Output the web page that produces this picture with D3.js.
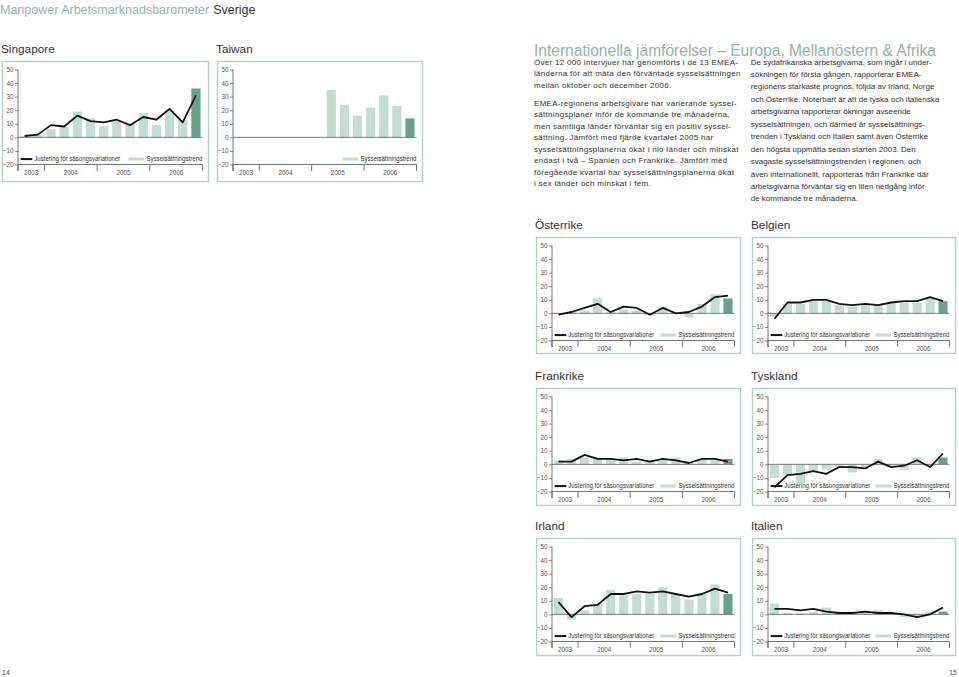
<!DOCTYPE html>
<html><head><meta charset="utf-8">
<script src="https://cdn.jsdelivr.net/npm/d3@7"></script>
<style>body{margin:0;background:#fff}svg{display:block}</style>
</head><body><svg id="c" width="959" height="677"></svg>
<script>
// ---------- DATA ----------
const quarters = ["2003 K3","2003 K4","2004 K1","2004 K2","2004 K3","2004 K4","2005 K1","2005 K2","2005 K3","2005 K4","2006 K1","2006 K2","2006 K3","2006 K4"];
const years = ["2003","2004","2005","2006"];
const yTicks = [50,40,30,20,10,0,-10,-20];
const legendAdj = "Justering för säsongsvariationer";
const legendTrend = "Sysselsättningstrend";

const singaporeTrend = [1,2,6,8,19,14,8,12,10,18,9,20,13,36];
const singaporeAdj   = [1,2,9,8,16,12,11,13,9,15,13,21,11,31];
const taiwanTrend    = [null,null,null,null,null,null,null,35,24,16,22,31,23,14];
const osterrikeTrend = [0,1,2,11,1,3,2,-1,5,0,-3,7,14,11];
const osterrikeAdj   = [-1,1,4,7,1,5,4,-1,4,0,1,5,12,13];
const belgienTrend   = [-2,7,7,9,9,6,5,6,7,8,8,8,11,9];
const belgienAdj     = [-4,8,8,10,10,7,6,7,6,8,9,9,12,9];
const frankrikeTrend = [3,4,5,4,4,5,2,3,3,5,1,4,3,4];
const frankrikeAdj   = [2,2,7,4,4,3,4,2,4,3,1,4,4,2];
const tysklandTrend  = [-10,-8,-14,-5,-4,-2,-6,-2,4,-1,-4,5,-1,5];
const tysklandAdj    = [-17,-8,-7,-5,-7,-2,-2,-3,2,-2,-1,3,-2,8];
const irlandTrend    = [12,-4,3,8,18,14,15,15,20,15,11,15,22,15];
const irlandAdj      = [9,-2,6,7,15,15,17,16,17,15,13,15,19,16];
const italienTrend   = [8,1,1,2,5,1,1,2,3,1,-2,-2,2,2];
const italienAdj     = [4,4,3,4,2,1,1,2,1,1,0,-2,0,5];

const headerTitle = "Manpower Arbetsmarknadsbarometer";
const headerCountry = "Sverige";
const heading = "Internationella jämförelser – Europa, Mellanöstern & Afrika";
const leftColumn = [
 ["Över 12 000 intervjuer har genomförts i de 13 EMEA-",
  "länderna för att mäta den förväntade sysselsättningen",
  "mellan oktober och december 2006."],
 ["EMEA-regionens arbetsgivare har varierande syssel-",
  "sättningsplaner inför de kommande tre månaderna,",
  "men samtliga länder förväntar sig en positiv syssel-",
  "sättning. Jämfört med fjärde kvartalet 2005 har",
  "sysselsättningsplanerna ökat i nio länder och minskat",
  "endast i två – Spanien och Frankrike. Jämfört med",
  "föregående kvartal har sysselsättningsplanerna ökat",
  "i sex länder och minskat i fem."]
];
const rightColumn = [
  "De sydafrikanska arbetsgivarna, som ingår i under-",
  "sökningen för första gången, rapporterar EMEA-",
  "regionens starkaste prognos, följda av Irland, Norge",
  "och Österrike. Noterbart är att de tyska och italienska",
  "arbetsgivarna rapporterar ökningar avseende",
  "sysselsättningen, och därmed är sysselsättnings-",
  "trenden i Tyskland och Italien samt även Österrike",
  "den högsta uppmätta sedan starten 2003. Den",
  "svagaste sysselsättningstrenden i regionen, och",
  "även internationellt, rapporteras från Frankrike där",
  "arbetsgivarna förväntar sig en liten nedgång inför",
  "de kommande tre månaderna."
];

// ---------- LAYOUT / STYLE ----------
const FONT = "'Liberation Sans', Arial, Helvetica, sans-serif";
const LIGHT = "#c3ddd1", DARK = "#68a48c", BORDER = "#b3d1c6", GREEN_TXT = "#93b4a9", TXT = "#333";

const charts = [
  {name:"Singapore", trend:singaporeTrend, adj:singaporeAdj, box:[2,61,207,121]},
  {name:"Taiwan",    trend:taiwanTrend,    adj:null,         box:[217,61,206,121]},
  {name:"Österrike", trend:osterrikeTrend, adj:osterrikeAdj, box:[536,237,205,117]},
  {name:"Belgien",   trend:belgienTrend,   adj:belgienAdj,   box:[752,237,204,117]},
  {name:"Frankrike", trend:frankrikeTrend, adj:frankrikeAdj, box:[536,388,205,118]},
  {name:"Tyskland",  trend:tysklandTrend,  adj:tysklandAdj,  box:[752,388,204,118]},
  {name:"Irland",    trend:irlandTrend,    adj:irlandAdj,    box:[536,538,205,118]},
  {name:"Italien",   trend:italienTrend,   adj:italienAdj,   box:[752,538,204,118]}
];

const svg = d3.select("#c").style("font-family", FONT);

// header
const hdr = svg.append("text").attr("x",0).attr("y",13.5).attr("font-size",12.5).attr("font-weight",300);
hdr.append("tspan").attr("fill",GREEN_TXT).text(headerTitle);
hdr.append("tspan").attr("fill",TXT).attr("dx",4).text(headerCountry);

// heading
svg.append("text").attr("x",534).attr("y",55.7).attr("font-size",16.3).attr("fill",GREEN_TXT)
  .attr("textLength",402).attr("lengthAdjust","spacingAndGlyphs").text(heading);

// paragraphs
let yy = 64.5;
leftColumn.forEach((para, pi) => {
  para.forEach(line => {
    svg.append("text").attr("x",534).attr("y",yy).attr("font-size",8).attr("letter-spacing",0.3)
      .attr("fill",TXT).text(line);
    yy += 11.5;
  });
  yy += 6.9;
});
rightColumn.forEach((line,i) => {
  svg.append("text").attr("x",750.7).attr("y",64.5 + i*12.45).attr("font-size",8).attr("fill",TXT).text(line);
});

// page numbers
svg.append("text").attr("x",2).attr("y",675).attr("font-size",7).attr("fill","#555").text("14");
svg.append("text").attr("x",957).attr("y",675).attr("font-size",7).attr("fill","#555").attr("text-anchor","end").text("15");

function drawChart(c){
  const [bx,by,bw,bh] = c.box;
  const g = svg.append("g");
  g.append("rect").attr("x",bx+0.5).attr("y",by+0.5).attr("width",bw-1).attr("height",bh-1)
    .attr("fill","none").attr("stroke",BORDER).attr("stroke-width",1.4);
  g.append("text").attr("x",bx-1).attr("y",by-7.7).attr("font-size",11.8).attr("fill",TXT).text(c.name);

  const x0 = bx+16, x1 = bx+bw-6.5;
  const yTop = by+8.5, yBot = by+103.5;
  const x = d3.scaleBand().domain(quarters).range([x0,x1]).paddingInner(0.3).paddingOuter(0.15);
  const y = d3.scaleLinear().domain([-20,50]).range([yBot,yTop]);
  const last = quarters[quarters.length-1];

  const bars = quarters.map((q,i)=>({q, v:c.trend[i]})).filter(d=>d.v!=null);
  g.selectAll("rect.bar").data(bars).join("rect").attr("class","bar")
    .attr("x",d=>x(d.q)).attr("width",x.bandwidth())
    .attr("y",d=>y(Math.max(0,d.v))).attr("height",d=>Math.abs(y(d.v)-y(0)))
    .attr("fill",d=>d.q===last?DARK:LIGHT);

  // zero line
  g.append("line").attr("x1",x0).attr("x2",x1).attr("y1",y(0)).attr("y2",y(0))
    .attr("stroke","#6d6d6d").attr("stroke-width",0.9);

  // y axis
  const ya = g.append("g").attr("transform",`translate(${x0},0)`)
    .call(d3.axisLeft(y).tickValues(yTicks).tickSize(3).tickSizeOuter(0).tickPadding(1.5));
  ya.select(".domain").remove();
  ya.selectAll(".tick line").attr("stroke","#555").attr("stroke-width",0.7);
  ya.selectAll(".tick text").attr("font-size",6.3).attr("fill","#555").attr("font-family",FONT);
  g.append("line").attr("x1",x0).attr("x2",x0).attr("y1",yTop).attr("y2",yBot+6.5)
    .attr("stroke","#555").attr("stroke-width",0.8);

  // x axis at bottom
  g.append("line").attr("x1",x0).attr("x2",x1).attr("y1",yBot).attr("y2",yBot)
    .attr("stroke","#555").attr("stroke-width",0.8);
  const step = x.step();
  const yearStart = years.map(yr => x(quarters.find(q=>q.startsWith(yr))) - step*0.15);
  const bounds = yearStart.concat([x1]);
  g.selectAll("line.ytick").data(bounds).join("line").attr("class","ytick")
    .attr("x1",d=>d).attr("x2",d=>d).attr("y1",yBot).attr("y2",yBot+6.5)
    .attr("stroke","#555").attr("stroke-width",0.8);
  g.selectAll("text.year").data(years).join("text").attr("class","year")
    .attr("x",(d,i)=>(bounds[i]+bounds[i+1])/2).attr("y",yBot+10.5)
    .attr("text-anchor","middle").attr("font-size",6.3).attr("fill","#555").text(d=>d);

  // line
  if (c.adj){
    g.append("path").datum(quarters.map((q,i)=>[q,c.adj[i]]))
      .attr("d", d3.line().x(d=>x(d[0])+x.bandwidth()/2).y(d=>y(d[1])))
      .attr("fill","none").attr("stroke","#111").attr("stroke-width",1.8).attr("stroke-linejoin","round");
  }

  // legend
  const ly = y(-16);
  if (c.adj){
    g.append("line").attr("x1",x0+2.7).attr("x2",x0+14.3).attr("y1",ly).attr("y2",ly)
      .attr("stroke","#111").attr("stroke-width",2);
    g.append("text").attr("x",x0+16.3).attr("y",ly+2.3).attr("font-size",6.5).attr("fill","#333")
      .attr("textLength",86).attr("lengthAdjust","spacingAndGlyphs").text(legendAdj);
  }
  const tx = x1-56;
  g.append("line").attr("x1",tx-18).attr("x2",tx-2.5).attr("y1",ly).attr("y2",ly)
    .attr("stroke",LIGHT).attr("stroke-width",3);
  g.append("text").attr("x",tx).attr("y",ly+2.3).attr("font-size",6.5).attr("fill","#333")
    .attr("textLength",56).attr("lengthAdjust","spacingAndGlyphs").text(legendTrend);
}
charts.forEach(drawChart);
</script></body></html>
